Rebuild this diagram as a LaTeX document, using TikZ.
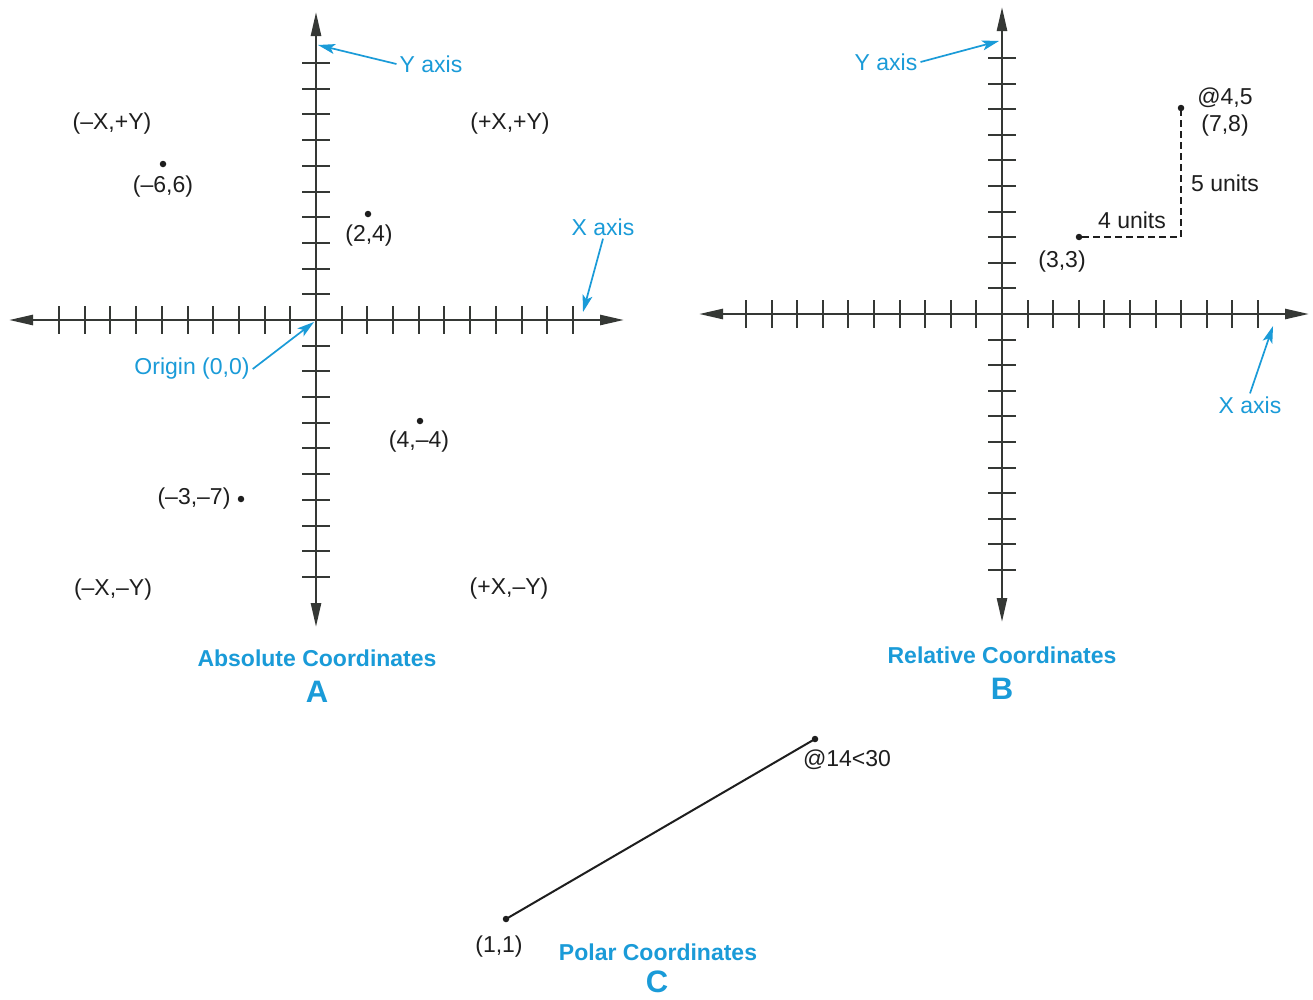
\documentclass[tikz,border=0pt]{standalone}
\usepackage{fontspec}
\setmainfont{Liberation Sans}
\usetikzlibrary{arrows.meta}
\definecolor{axisgray}{HTML}{353835}
\definecolor{capblue}{HTML}{1A9BD8}
\definecolor{ink}{HTML}{1E1E1E}
\tikzset{
 lbl/.style={text=ink, font=\fontsize{23}{27}\selectfont, inner sep=2pt},
 blbl/.style={text=capblue, font=\fontsize{23}{27}\selectfont, inner sep=3pt},
 title/.style={text=capblue, font=\bfseries\fontsize{23}{27}\selectfont, inner sep=0pt},
 letter/.style={text=capblue, font=\bfseries\fontsize{31}{36}\selectfont, inner sep=0pt},
 dot/.style={circle, fill=ink, inner sep=0pt, minimum size=6.5pt},
 pointer/.style={draw=capblue, line width=1.7pt, -{Stealth[length=17pt,width=10pt,inset=4pt]}},
 axisline/.style={draw=axisgray, line width=2.5pt, {Triangle[length=24pt,width=10pt]}-{Triangle[length=24pt,width=10pt]}},
 tickmark/.style={draw=axisgray, line width=2.6pt},
 dashleg/.style={draw=ink, line width=2pt, dash pattern=on 7pt off 4pt},
 polarline/.style={draw=ink, line width=2pt}
}
\begin{document}
\begin{tikzpicture}[x=1pt,y=-1pt]
\useasboundingbox[fill=white] (0,0) rectangle (1313,999);

% ---------------- Diagram A : absolute coordinates ----------------
\coordinate (AxL) at (9,320);
\coordinate (AxR) at (624,320);
\coordinate (AyT) at (316,12);
\coordinate (AyB) at (316,627);
\draw[axisline] (AxL) -- (AxR);
\draw[axisline] (AyT) -- (AyB);
\foreach \k in {-10,...,-1,1,2,...,10} {
  \pgfmathsetmacro{\tx}{round(316+\k*25.7)}
  \pgfmathsetmacro{\ty}{round(320+\k*25.7)}
  \draw[tickmark] (\tx,306) -- (\tx,334);
  \draw[tickmark] (302,\ty) -- (330,\ty);
}
\node[lbl] (qa1) at (112,124) {(–X,+Y)};
\node[lbl] (qa2) at (510,124) {(+X,+Y)};
\node[lbl] (qa3) at (113,590) {(–X,–Y)};
\node[lbl] (qa4) at (509,589) {(+X,–Y)};

\node[dot] (pa1) at (163,164) {};
\node[lbl] (la1) at (163,187) {(–6,6)};
\node[dot] (pa2) at (368,214) {};
\node[lbl] (la2) at (369,236) {(2,4)};
\node[dot] (pa3) at (420,421) {};
\node[lbl] (la3) at (419,442) {(4,–4)};
\node[dot] (pa4) at (241,499) {};
\node[lbl] (la4) at (194,499) {(–3,–7)};

\node[blbl] (ya) at (431,64) {Y axis};
\coordinate (yaTip) at (318,45);
\draw[pointer] (ya.west) -- (yaTip);
\node[blbl] (xa) at (603,227) {X axis};
\coordinate (xaTip) at (583,312);
\draw[pointer] (xa.south) -- (xaTip);
\node[blbl] (ora) at (192,369) {Origin (0,0)};
\coordinate (oraTip) at (314,322);
\draw[pointer] (ora.east) -- (oraTip);

\node[title] (ta) at (317,658) {Absolute Coordinates};
\node[letter] (La) at (317,692) {A};

% ---------------- Diagram B : relative coordinates ----------------
\coordinate (BxL) at (699,314);
\coordinate (BxR) at (1309,314);
\coordinate (ByT) at (1002,7);
\coordinate (ByB) at (1002,622);
\draw[axisline] (BxL) -- (BxR);
\draw[axisline] (ByT) -- (ByB);
\foreach \k in {-10,...,-1,1,2,...,10} {
  \pgfmathsetmacro{\tx}{round(1002+\k*25.6)}
  \pgfmathsetmacro{\ty}{round(314+\k*25.6)}
  \draw[tickmark] (\tx,300) -- (\tx,328);
  \draw[tickmark] (988,\ty) -- (1016,\ty);
}
\node[dot] (pb1) at (1079,237) {};
\node[dot] (pb2) at (1181,108) {};
\coordinate (pbc) at (1181,237);
\draw[dashleg] (pb1) -- (pbc) -- (pb2);
\node[lbl] (lb1) at (1225,98) {@4,5};
\node[lbl] (lb2) at (1225,126) {(7,8)};
\node[lbl] (lb3) at (1225,183) {5 units};
\node[lbl] (lb4) at (1132,220) {4 units};
\node[lbl] (lb5) at (1062,262) {(3,3)};

\node[blbl] (yb) at (886,62) {Y axis};
\coordinate (ybTip) at (999,41);
\draw[pointer] (yb.east) -- (ybTip);
\node[blbl] (xb) at (1250,405) {X axis};
\coordinate (xbTip) at (1273,326);
\draw[pointer] (xb.north) -- (xbTip);

\node[title] (tb) at (1002,655) {Relative Coordinates};
\node[letter] (Lb) at (1002,689) {B};

% ---------------- Diagram C : polar coordinates ----------------
\node[dot] (pc1) at (506,919) {};
\node[dot] (pc2) at (815,739) {};
\draw[polarline] (pc1.center) -- (pc2.center);
\node[lbl] (lc1) at (499,947) {(1,1)};
\node[lbl] (lc2) at (847,760) {@14<30};
\node[title] (tc) at (658,952) {Polar Coordinates};
\node[letter] (Lc) at (657,982) {C};
\end{tikzpicture}
\end{document}
